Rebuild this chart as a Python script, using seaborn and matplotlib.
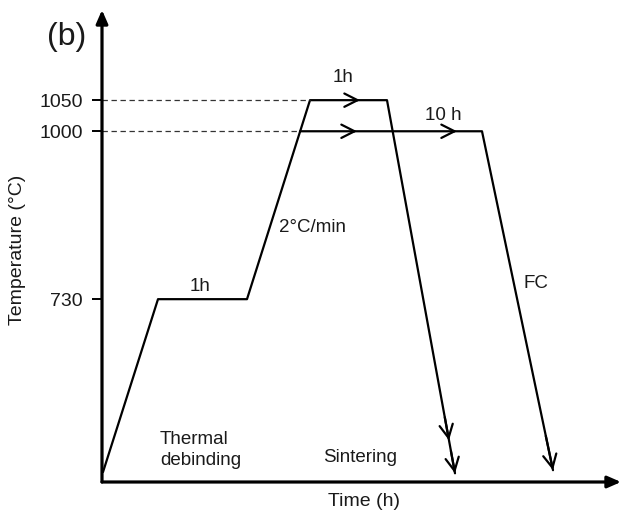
import matplotlib
matplotlib.use("Agg")
import matplotlib.pyplot as plt
import seaborn as sns
import pandas as pd

# ---- data (schematic, time in arbitrary units, temperature in °C) ----
debind_sinter_time = [0.1, 5.6, 14.5, 20.8, 28.5, 35.3]
debind_sinter_temp = [452, 730, 730, 1050, 1050, 450]
hold_1000_time = [19.8, 38.0, 45.1]
hold_1000_temp = [1000, 1000, 455]

ytick_values = [730, 1000, 1050]
ytick_labels = ["730", "1000", "1050"]

# dashed guide lines: (end time, temperature)
guide_end_time = [20.8, 19.8]
guide_temp = [1050, 1000]

# direction arrows: (tail time, tail temp, tip time, tip temp)
arrow_tail_t = [25.3, 25.0, 35.0, 34.28, 34.89, 44.38]
arrow_tail_T = [1050, 1000, 1000, 540, 486, 510]
arrow_tip_t = [25.8, 25.5, 35.5, 34.70, 35.30, 45.10]
arrow_tip_T = [1050, 1000, 1000, 503, 450, 455]

# annotation texts
ann_text = ["1h", "1h", "10 h", "2°C/min", "FC", "Sintering"]
ann_t = [9.8, 24.1, 34.1, 21.0, 43.4, 25.8]
ann_T = [751, 1086, 1026, 846, 756, 475]

sns.set_theme(style="white")
plt.rcParams["font.family"] = ["Liberation Sans", "DejaVu Sans"]

fig = plt.figure(figsize=(6.24, 5.12), dpi=100)
ax = fig.add_axes([102 / 624, 30 / 512, 519 / 624, 472 / 512])
ax.set_xlim(0, 51.9)
ax.set_ylim(436, 1195)

txt_color = "#1a1a1a"

df1 = pd.DataFrame({"time": debind_sinter_time, "temp": debind_sinter_temp})
df2 = pd.DataFrame({"time": hold_1000_time, "temp": hold_1000_temp})
sns.lineplot(data=df1, x="time", y="temp", sort=False, estimator=None,
             color="black", lw=1.6, ax=ax)
sns.lineplot(data=df2, x="time", y="temp", sort=False, estimator=None,
             color="black", lw=1.6, ax=ax)

for te, T in zip(guide_end_time, guide_temp):
    ax.plot([0, te], [T, T], ls=(0, (4.3, 2.9)), lw=0.9, color="#333333")

for t0, T0, t1, T1 in zip(arrow_tail_t, arrow_tail_T, arrow_tip_t, arrow_tip_T):
    ax.annotate("", xy=(t1, T1), xytext=(t0, T0),
                arrowprops=dict(arrowstyle="->,head_length=0.95,head_width=0.48",
                                mutation_scale=10, lw=1.6, color="black",
                                shrinkA=0, shrinkB=0))

for s, t, T in zip(ann_text, ann_t, ann_T):
    ax.text(t, T, s, ha="center", va="center", fontsize=13.5, color=txt_color)
ax.text(5.8, 487, "Thermal\ndebinding", ha="left", va="center", fontsize=13.5,
        color=txt_color, linespacing=1.3)

# axes with arrows
for sp in ax.spines.values():
    sp.set_visible(False)
ax.annotate("", xy=(0, 1), xytext=(0, 0), xycoords="axes fraction",
            arrowprops=dict(arrowstyle="-|>,head_length=0.8,head_width=0.35",
                            mutation_scale=10, lw=2.3, color="black",
                            shrinkA=0, shrinkB=0))
ax.annotate("", xy=(1, 0), xytext=(0, 0), xycoords="axes fraction",
            arrowprops=dict(arrowstyle="-|>,head_length=0.8,head_width=0.35",
                            mutation_scale=10, lw=2.3, color="black",
                            shrinkA=0, shrinkB=0))

ax.set_xticks([])
ax.set_yticks(ytick_values)
ax.set_yticklabels(ytick_labels)
ax.tick_params(axis="y", direction="out", length=7, width=1.4, pad=7,
               labelsize=14, colors="black", labelcolor=txt_color, left=True)
ax.set_xlabel("")
ax.set_ylabel("")

fig.text(364 / 624, 1 - 502 / 512, "Time (h)", ha="center", va="center",
         fontsize=14, color=txt_color)
fig.text(18 / 624, 1 - 250 / 512, "Temperature (°C)", ha="center", va="center",
         rotation=90, fontsize=14, color=txt_color)
fig.text(67 / 624, 1 - 37 / 512, "(b)", ha="center", va="center",
         fontsize=23, color=txt_color)

fig.savefig("out.png", dpi=100)
